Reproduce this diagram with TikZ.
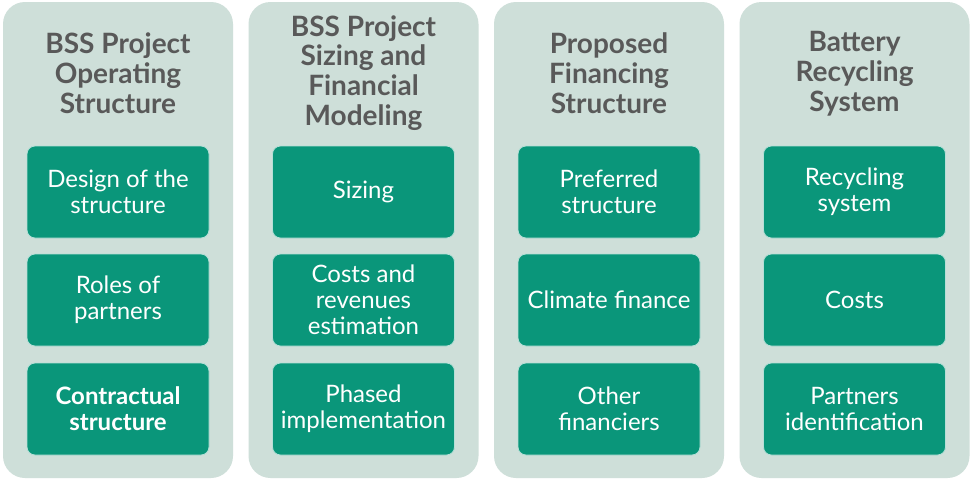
\documentclass[tikz,border=0pt]{standalone}
\usepackage{fontspec}
\setmainfont{Lato}
\definecolor{colbg}{HTML}{CEDFD9}
\definecolor{boxgreen}{HTML}{0A967A}
\definecolor{titlegray}{HTML}{595959}
\tikzset{
  colbox/.style={fill=colbg, draw=none, rounded corners=22pt, minimum width=230pt, minimum height=476pt, inner sep=0pt},
  itembox/.style={fill=boxgreen, draw=white!70!boxgreen, line width=0.8pt, rounded corners=8pt, minimum width=182pt, minimum height=92pt, inner sep=0pt, text=white, align=center, font=\fontsize{24}{26}\selectfont},
  coltitle/.style={text=titlegray, align=center, font=\fontsize{28}{29.8}\selectfont\bfseries, inner sep=0pt}
}
\begin{document}
\begin{tikzpicture}[x=1pt,y=-1pt]
\useasboundingbox[fill=white] (0,0) rectangle (970,482);
\foreach \i/\cx in {1/118,2/363.5,3/609,4/854.5}{
  \node[colbox] (c\i) at (\cx,240) {};
}
\node[coltitle] (t1) at (118,73) {BSS Project\\Operating\\Structure};
\node[coltitle] (t2) at (363.5,73) {BSS Project\\Sizing and\\Financial\\Modeling};
\node[coltitle] (t3) at (609,73) {Proposed\\Financing\\Structure};
\node[coltitle] (t4) at (854.5,74) {Battery\\Recycling\\System};

\node[itembox] (b11) at (118,192) {Design of the\\structure};
\node[itembox] (b12) at (118,300) {Roles of\\partners};
\node[itembox] (b13) at (118,409) {\bfseries Contractual\\\bfseries structure};

\node[itembox] (b21) at (363.5,192) {Sizing};
\node[itembox] (b22) at (363.5,300) {Costs and\\revenues\\estimation};
\node[itembox] (b23) at (363.5,409) {Phased\\implementation};

\node[itembox] (b31) at (609,192) {Preferred\\structure};
\node[itembox] (b32) at (609,300) {Climate finance};
\node[itembox] (b33) at (609,409) {Other\\financiers};

\node[itembox] (b41) at (854.5,192) {Recycling\\system};
\node[itembox] (b42) at (854.5,300) {Costs};
\node[itembox] (b43) at (854.5,409) {Partners\\identification};
\end{tikzpicture}
\end{document}
